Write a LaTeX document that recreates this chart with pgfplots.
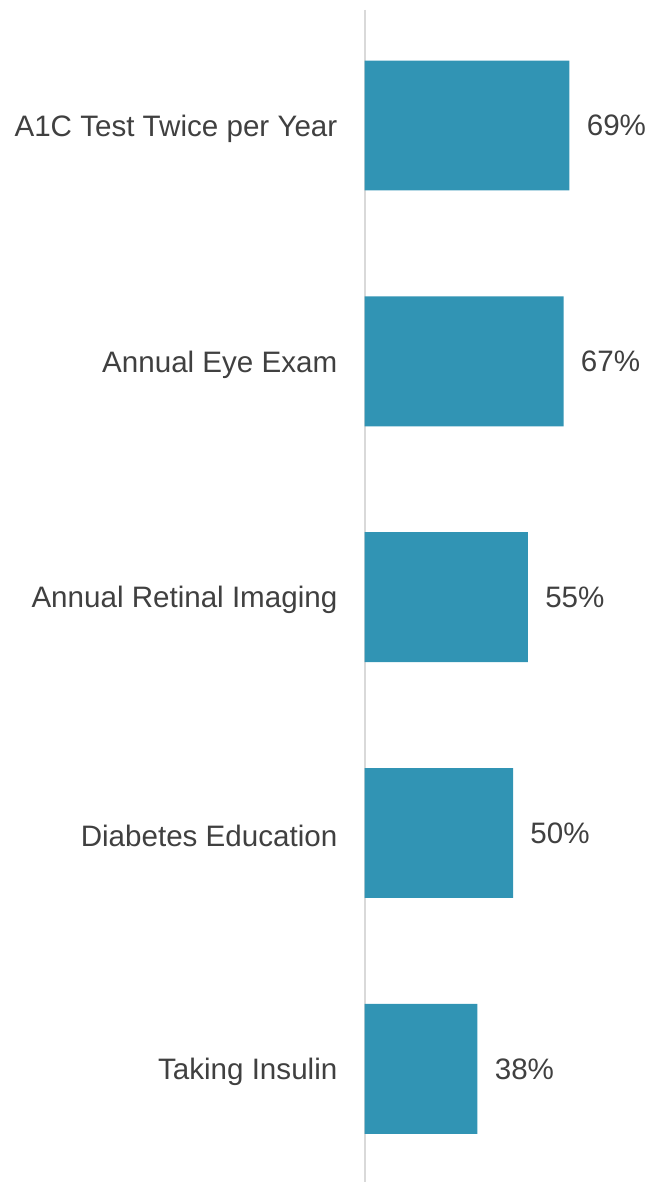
\documentclass[border=0pt]{standalone}
\usepackage{pgfplots}
\pgfplotsset{compat=1.18}
\usepackage{fontspec}
\setmainfont{Liberation Sans}
\definecolor{barblue}{RGB}{49,148,180}
\definecolor{txtgray}{RGB}{64,64,64}
\definecolor{axgray}{RGB}{217,217,217}
\begin{document}
\begin{tikzpicture}
  \begin{axis}[
    at={(0,0)}, anchor=south west,
    scale only axis,
    width=148.5pt, height=586.5pt,
    xbar, bar width=65pt,
    xmin=0, xmax=100,
    ymin=-0.49, ymax=4.48,
    y dir=reverse,
    axis x line=none,
    axis y line*=left,
    y axis line style={draw=axgray, line width=1pt, -},
    ytick={0,1,2,3,4},
    yticklabels={A1C Test Twice per Year, Annual Eye Exam, Annual Retinal Imaging, Diabetes Education, Taking Insulin},
    major tick length=0pt,
    ytick style={draw=none},
    yticklabel style={font=\fontsize{14.8}{17}\selectfont, text=txtgray, inner sep=0pt, anchor=east, xshift=-13.5pt, yshift=-1.5pt},
    /pgf/number format/assume math mode=true,
    nodes near coords={\pgfmathprintnumber{\pgfplotspointmeta}\%},
    nodes near coords style={font=\fontsize{14.8}{17}\selectfont, text=txtgray, anchor=west, inner sep=0pt, xshift=8.5pt},
    clip=false,
  ]
    \addplot[fill=barblue, draw=none] coordinates {
      (69,0) (67,1) (55,2) (50,3) (38,4)
    };
  \end{axis}
  \path (-182.5pt,0) rectangle (148.5pt,591.5pt);
\end{tikzpicture}
\end{document}
